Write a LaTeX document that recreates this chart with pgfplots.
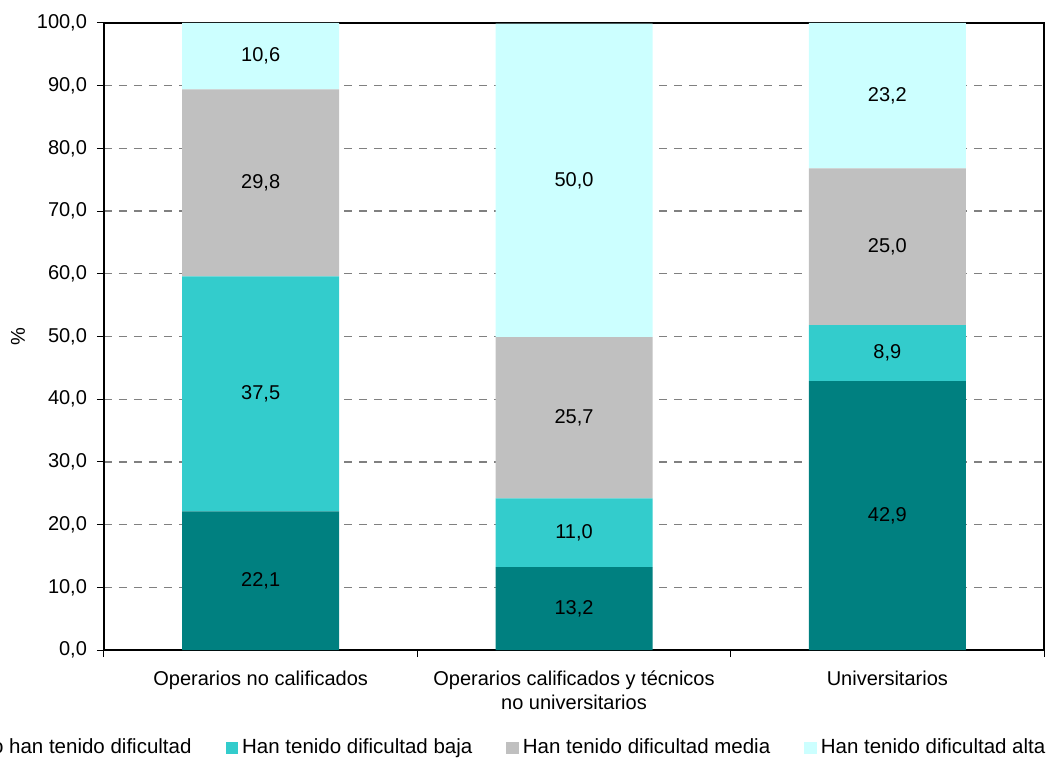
\documentclass[border=0pt]{standalone}
\usepackage{pgfplots}
\pgfplotsset{compat=1.18}
\usepackage{pgfplotstable}
\usepackage{fontspec}
\setmainfont{Liberation Sans}
\definecolor{cA}{RGB}{0,128,128}
\definecolor{cB}{RGB}{51,204,204}
\definecolor{cC}{RGB}{192,192,192}
\definecolor{cD}{RGB}{204,255,255}
\definecolor{gridgray}{RGB}{128,128,128}
\pgfplotstableread{
x a b c d
0 22.1 37.5 29.8 10.6
1 13.2 11.0 25.7 50.0
2 42.9 8.9 25.0 23.2
}\datatable
\begin{document}
\begin{tikzpicture}
\begin{axis}[
  scale only axis,
  width=470pt, height=313.5pt,
  ybar stacked,
  bar width=78.5pt,
  xmin=-0.5, xmax=2.5,
  ymin=0, ymax=100,
  ytick={0,10,...,100},
  xtick={0,1,2},
  xtick pos=bottom, ytick pos=left,
  xticklabels={Operarios no calificados,{Operarios calificados y técnicos\\no universitarios},Universitarios},
  xticklabel style={align=center, font=\fontsize{10}{12}\selectfont, yshift=-3.5pt},
  minor xtick={-0.5,0.5,1.5,2.5},
  x tick style={draw=none},
  minor x tick style={draw=black, line width=0.5pt},
  minor tick length=3.5pt,
  major tick length=3.5pt,
  tick align=outside,
  y tick style={black, line width=0.5pt},
  ymajorgrids,
  major grid style={gridgray, line width=0.6pt, dash pattern=on 4pt off 3.5pt},
  axis line style={black, line width=0.6pt},
  /pgf/number format/.cd, fixed, fixed zerofill, precision=1, use comma, assume math mode=true,
  /pgfplots/.cd,
  yticklabel style={font=\fontsize{10}{12}\selectfont, xshift=-1.5pt},
  ylabel={\%},
  ylabel style={at={(axis description cs:-0.0915,0.5)}, anchor=center, font=\fontsize{10}{12}\selectfont},
  point meta=rawy,
  nodes near coords,
  every node near coord/.append style={anchor=center, black, font=\fontsize{10}{12}\selectfont},
  legend columns=4,
  legend style={draw=none, at={(axis description cs:0.4266,-0.1563)}, anchor=center, font=\fontsize{10.25}{12}\selectfont, /tikz/every even column/.append style={column sep=15pt}},
  legend image code/.code={\fill[#1] (0pt,-3.15pt) rectangle (6.3pt,3.15pt);},
]
\addplot[fill=cA, draw=none] table[x=x, y=a]{\datatable};
\addlegendentry{No han tenido dificultad}
\addplot[fill=cB, draw=none] table[x=x, y=b]{\datatable};
\addlegendentry{Han tenido dificultad baja}
\addplot[fill=cC, draw=none] table[x=x, y=c]{\datatable};
\addlegendentry{Han tenido dificultad media}
\addplot[fill=cD, draw=none] table[x=x, y=d]{\datatable};
\addlegendentry{Han tenido dificultad alta}
\end{axis}
\pgfresetboundingbox
\path (-52pt,-55pt) rectangle (472pt,325pt);
\end{tikzpicture}
\end{document}
